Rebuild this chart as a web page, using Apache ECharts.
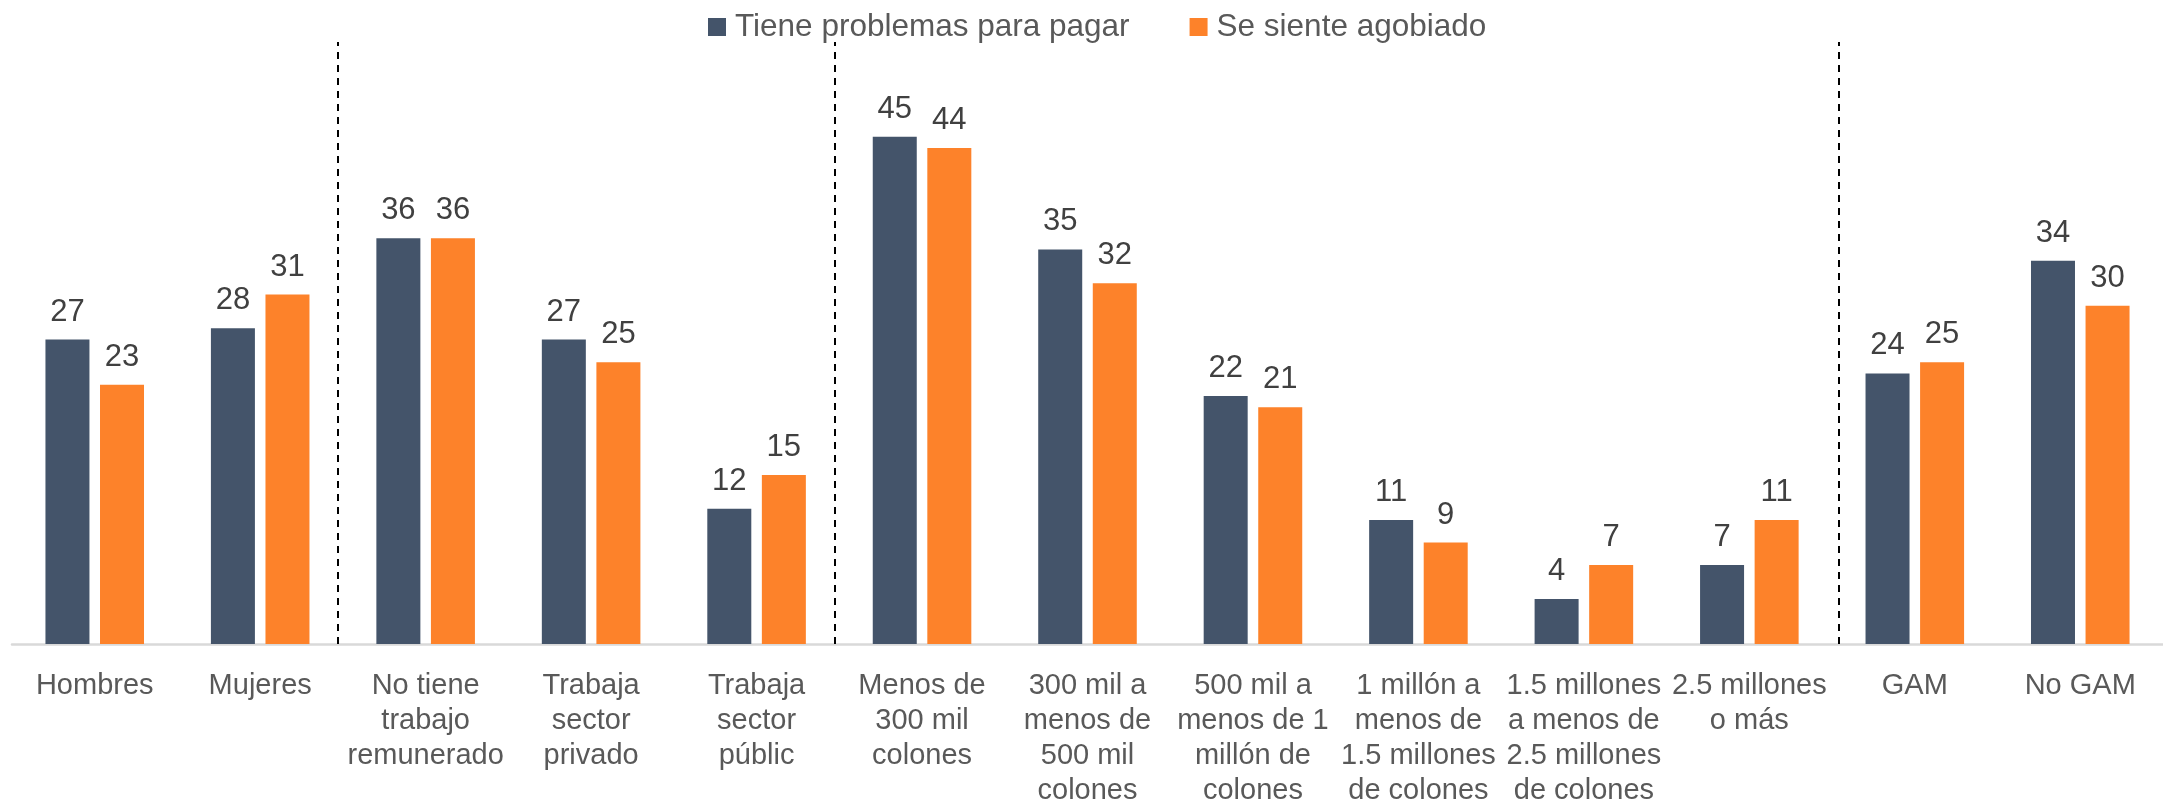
<!DOCTYPE html>
<html>
<head>
<meta charset="utf-8">
<script src="https://cdn.jsdelivr.net/npm/echarts@6/dist/echarts.min.js"></script>
<style>
  html, body { margin: 0; padding: 0; background: #fff; }
  #chart { width: 2163px; height: 803px; }
</style>
</head>
<body>
<div id="chart"></div>
<script>
// categorias (saltos de linea como en el original)
var categories = [
  'Hombres',
  'Mujeres',
  'No tiene\ntrabajo\nremunerado',
  'Trabaja\nsector\nprivado',
  'Trabaja\nsector\npúblic',
  'Menos de\n300 mil\ncolones',
  '300 mil a\nmenos de\n500 mil\ncolones',
  '500 mil a\nmenos de 1\nmillón de\ncolones',
  '1 millón a\nmenos de\n1.5 millones\nde colones',
  '1.5 millones\na menos de\n2.5 millones\nde colones',
  '2.5 millones\no más',
  'GAM',
  'No GAM'
];
var seriesNames = ['Tiene problemas para pagar', 'Se siente agobiado'];
var problemasPagar = [27, 28, 36, 27, 12, 45, 35, 22, 11, 4, 7, 24, 34];
var agobiado = [23, 31, 36, 25, 15, 44, 32, 21, 9, 7, 11, 25, 30];
// separadores punteados entre grupos (posicion en unidades de categoria)
var separators = [1.47, 4.47, 10.54];

var chart = echarts.init(document.getElementById('chart'));
var font = '"Liberation Sans", Arial, sans-serif';

var barLabel = {
  show: true,
  position: 'top',
  distance: 12,
  color: '#404040',
  fontSize: 31,
  fontFamily: font
};

var option = {
  backgroundColor: '#ffffff',
  animation: false,
  legend: {
    top: 6,
    left: 703,
    icon: 'rect',
    itemWidth: 18,
    itemHeight: 18,
    itemGap: 60,
    data: seriesNames,
    textStyle: {
      fontSize: 31.5,
      color: '#595959',
      fontFamily: font,
      padding: [0, 0, 0, 4]
    }
  },
  grid: {
    top: 42,
    left: 12,
    right: 0,
    bottom: 159,
    containLabel: false,
    outerBoundsMode: 'none'
  },
  xAxis: [
    {
      type: 'category',
      data: categories,
      axisTick: { show: false },
      axisLine: {
        lineStyle: { color: '#d9d9d9', width: 2.5 }
      },
      axisLabel: {
        interval: 0,
        margin: 24,
        fontSize: 29,
        lineHeight: 35,
        color: '#595959',
        fontFamily: font
      }
    },
    {
      // eje oculto solo para ubicar las lineas punteadas
      type: 'value',
      show: false,
      min: -0.5,
      max: categories.length - 0.5
    }
  ],
  yAxis: {
    type: 'value',
    show: false,
    min: 0,
    max: 53.4,
    splitLine: { show: false }
  },
  series: [
    {
      name: seriesNames[0],
      type: 'bar',
      barWidth: 44,
      barGap: '24%',
      itemStyle: { color: '#44546A' },
      label: barLabel,
      data: problemasPagar
    },
    {
      name: seriesNames[1],
      type: 'bar',
      barWidth: 44,
      barGap: '24%',
      itemStyle: { color: '#FD822A' },
      label: barLabel,
      data: agobiado
    },
    {
      type: 'line',
      xAxisIndex: 1,
      data: [],
      silent: true,
      markLine: {
        symbol: 'none',
        silent: true,
        label: { show: false },
        lineStyle: { color: '#000000', width: 2, type: [7, 6] },
        data: separators.map(function (v) { return { xAxis: v }; })
      }
    }
  ]
};

chart.setOption(option);
</script>
</body>
</html>
